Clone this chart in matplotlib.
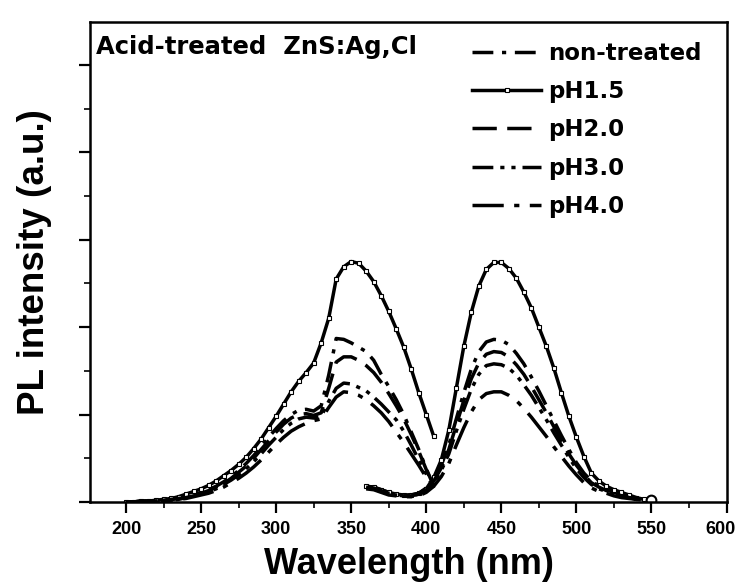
import matplotlib
matplotlib.use("Agg")
import matplotlib.pyplot as plt
from matplotlib.ticker import MultipleLocator, NullFormatter
from matplotlib.transforms import ScaledTranslation

# ---------------- data ----------------
series_names = ["non-treated", "pH1.5", "pH2.0", "pH3.0", "pH4.0"]

ex_wavelength = list(range(200, 410, 5))   # excitation scan, nm
em_wavelength = list(range(360, 555, 5))   # emission scan, nm

ex_non_treated = [0.00, 0.00, 0.01, 0.01, 0.01, 0.02, 0.03, 0.04, 0.06, 0.08,
                  0.11, 0.14, 0.18, 0.23, 0.29, 0.36, 0.44, 0.53, 0.63, 0.74,
                  0.84, 0.93, 1.00, 1.05, 1.06, 1.04, 1.10, 1.45, 1.87, 1.86,
                  1.82, 1.77, 1.72, 1.62, 1.46, 1.32, 1.17, 1.00, 0.80, 0.60,
                  0.38, 0.18]
ex_ph15 = [0.00, 0.00, 0.01, 0.01, 0.02, 0.03, 0.04, 0.06, 0.09, 0.12,
           0.15, 0.19, 0.24, 0.30, 0.36, 0.43, 0.51, 0.61, 0.72, 0.85,
           0.98, 1.12, 1.26, 1.38, 1.48, 1.59, 1.82, 2.10, 2.55, 2.69,
           2.75, 2.73, 2.64, 2.52, 2.36, 2.18, 1.98, 1.77, 1.52, 1.25,
           1.00, 0.75]
ex_ph20 = [0.00, 0.00, 0.01, 0.01, 0.01, 0.02, 0.03, 0.04, 0.05, 0.07,
           0.10, 0.13, 0.17, 0.21, 0.27, 0.34, 0.41, 0.50, 0.60, 0.70,
           0.80, 0.89, 0.96, 1.00, 1.01, 0.99, 1.02, 1.30, 1.60, 1.66,
           1.66, 1.62, 1.56, 1.48, 1.37, 1.24, 1.10, 0.95, 0.77, 0.58,
           0.37, 0.18]
ex_ph30 = [0.00, 0.00, 0.00, 0.01, 0.01, 0.02, 0.02, 0.03, 0.05, 0.07,
           0.09, 0.12, 0.15, 0.20, 0.25, 0.31, 0.38, 0.46, 0.55, 0.65,
           0.74, 0.83, 0.90, 0.95, 0.97, 0.96, 0.98, 1.15, 1.30, 1.36,
           1.35, 1.31, 1.27, 1.20, 1.12, 1.03, 0.94, 0.81, 0.65, 0.48,
           0.32, 0.16]
ex_ph40 = [0.00, 0.00, 0.00, 0.01, 0.01, 0.01, 0.02, 0.03, 0.04, 0.06,
           0.08, 0.10, 0.13, 0.17, 0.22, 0.27, 0.33, 0.40, 0.48, 0.57,
           0.66, 0.74, 0.81, 0.86, 0.90, 0.93, 0.95, 1.08, 1.20, 1.26,
           1.25, 1.22, 1.17, 1.10, 1.02, 0.92, 0.80, 0.68, 0.55, 0.42,
           0.28, 0.15]

em_non_treated = [0.18, 0.17, 0.14, 0.11, 0.09, 0.08, 0.08, 0.10, 0.16, 0.26,
                  0.42, 0.65, 0.95, 1.25, 1.52, 1.72, 1.83, 1.86, 1.85, 1.80,
                  1.70, 1.58, 1.43, 1.27, 1.10, 0.93, 0.76, 0.60, 0.45, 0.33,
                  0.24, 0.18, 0.14, 0.11, 0.08, 0.06, 0.04, 0.03, 0.02]
em_ph15 = [0.18, 0.17, 0.14, 0.11, 0.09, 0.08, 0.08, 0.10, 0.15, 0.28,
           0.48, 0.82, 1.30, 1.78, 2.17, 2.47, 2.66, 2.74, 2.74, 2.67,
           2.56, 2.40, 2.22, 2.00, 1.78, 1.53, 1.25, 0.98, 0.74, 0.52,
           0.33, 0.24, 0.18, 0.14, 0.11, 0.08, 0.05, 0.03, 0.02]
em_ph20 = [0.17, 0.16, 0.13, 0.10, 0.08, 0.07, 0.07, 0.09, 0.15, 0.24,
           0.39, 0.60, 0.88, 1.16, 1.41, 1.59, 1.69, 1.72, 1.71, 1.66,
           1.57, 1.46, 1.32, 1.17, 1.02, 0.86, 0.70, 0.55, 0.42, 0.31,
           0.22, 0.17, 0.13, 0.10, 0.07, 0.05, 0.04, 0.03, 0.02]
em_ph30 = [0.16, 0.15, 0.12, 0.09, 0.08, 0.07, 0.07, 0.09, 0.14, 0.22,
           0.36, 0.55, 0.81, 1.06, 1.29, 1.46, 1.56, 1.58, 1.57, 1.53,
           1.45, 1.34, 1.22, 1.08, 0.94, 0.79, 0.65, 0.51, 0.38, 0.28,
           0.20, 0.15, 0.12, 0.09, 0.07, 0.05, 0.03, 0.02, 0.02]
em_ph40 = [0.15, 0.14, 0.11, 0.08, 0.07, 0.06, 0.06, 0.07, 0.11, 0.18,
           0.29, 0.44, 0.65, 0.85, 1.03, 1.17, 1.24, 1.26, 1.26, 1.22,
           1.16, 1.07, 0.97, 0.86, 0.75, 0.63, 0.52, 0.41, 0.31, 0.22,
           0.16, 0.12, 0.10, 0.07, 0.05, 0.04, 0.03, 0.02, 0.01]

x_ticks = [200, 250, 300, 350, 400, 450, 500, 550, 600]
x_tick_labels = ["200", "250", "300", "350", "400", "450", "500", "550", "600"]

# ---------------- styling ----------------
styles = {
    "non-treated": dict(linestyle=(0, (6, 2.5, 1.2, 2.5)), marker=None),
    "pH1.5": dict(linestyle="-", marker="s", markersize=3.2,
                  markerfacecolor="white", markeredgewidth=0.8),
    "pH2.0": dict(linestyle=(0, (7, 3)), marker=None),
    "pH3.0": dict(linestyle=(0, (6, 2, 1.2, 2, 1.2, 2)), marker=None),
    "pH4.0": dict(linestyle=(0, (9, 3, 1.5, 3)), marker=None),
}

ex_data = [ex_non_treated, ex_ph15, ex_ph20, ex_ph30, ex_ph40]
em_data = [em_non_treated, em_ph15, em_ph20, em_ph30, em_ph40]

fig = plt.figure(figsize=(7.4, 5.82), dpi=100)
ax = fig.add_axes([0.1216, 0.1375, 0.8608, 0.8247])

handles = []
for name, ex, em in zip(series_names, ex_data, em_data):
    st = styles[name]
    (h,) = ax.plot(ex_wavelength, ex, color="black", lw=2.5, **st)
    ax.plot(em_wavelength, em, color="black", lw=2.5, **st)
    handles.append(h)

# end marker of pH1.5 emission (open circle at 550 nm)
ax.plot([em_wavelength[-1]], [em_ph15[-1]], marker="o", ms=7,
        mfc="white", mec="black", mew=1.5, ls="none")

ax.set_xlim(176, 600.3)
ax.set_ylim(0, 5.49)

ax.set_xticks(x_ticks)
ax.set_xticklabels(x_tick_labels)
ax.xaxis.set_minor_locator(MultipleLocator(25))
ax.yaxis.set_major_locator(MultipleLocator(1))
ax.yaxis.set_minor_locator(MultipleLocator(0.5))
ax.yaxis.set_major_formatter(NullFormatter())

ax.tick_params(axis="both", which="major", direction="out", length=8, width=1.6)
ax.tick_params(axis="both", which="minor", direction="out", length=4, width=1.2)
ax.tick_params(axis="x", which="major", pad=6)

xlabels = ax.get_xticklabels()
for lab in xlabels:
    lab.set_fontfamily("Liberation Sans")
    lab.set_fontweight("bold")
    lab.set_fontsize(13)
# keep the last label ("600") inside the figure edge
xlabels[-1].set_transform(xlabels[-1].get_transform() +
                          ScaledTranslation(-0.06, 0, fig.dpi_scale_trans))

for sp in ax.spines.values():
    sp.set_linewidth(1.8)

ax.set_xlabel("Wavelength (nm)", fontsize=26, fontweight="bold",
              family="Liberation Sans", labelpad=6)
ax.set_ylabel("PL intensity (a.u.)", fontsize=26.5, fontweight="bold",
              family="Liberation Sans", labelpad=16)

ax.text(0.009, 0.948, "Acid-treated  ZnS:Ag,Cl", transform=ax.transAxes,
        fontsize=17.5, fontweight="bold", family="DejaVu Sans",
        ha="left", va="center")

leg = ax.legend(handles, series_names, loc="upper left",
                bbox_to_anchor=(0.600, 0.958), frameon=False,
                prop=dict(family="DejaVu Sans", weight="bold", size=16.5),
                handlelength=3.0, handletextpad=0.3, labelspacing=0.66,
                borderpad=0.0, borderaxespad=0.0, numpoints=1)

fig.savefig("out.png", dpi=100)
